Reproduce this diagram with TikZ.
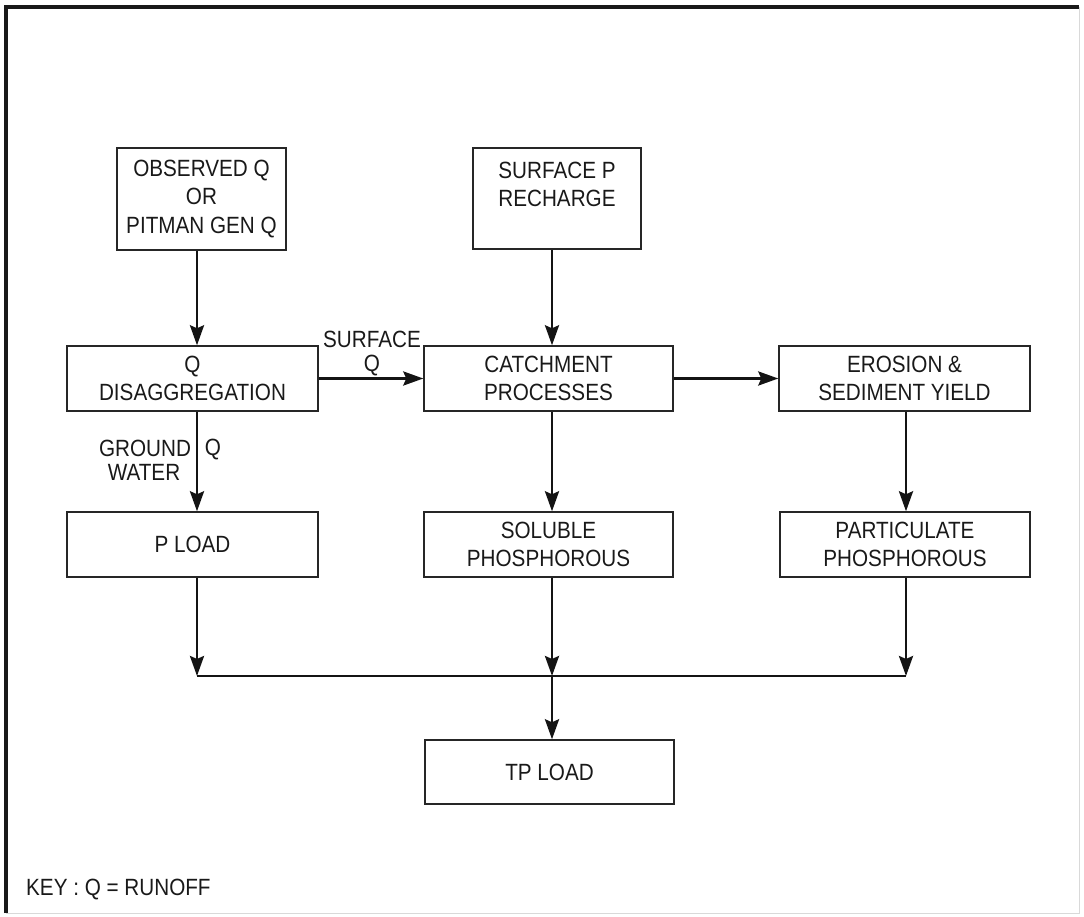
\documentclass[tikz,border=0pt]{standalone}
\usepackage{fontspec}
\setmainfont{Liberation Sans}[FakeStretch=0.88]
\usetikzlibrary{arrows.meta}
\begin{document}
\begin{tikzpicture}[x=1pt,y=-1pt,
  every node/.style={font=\fontsize{23.5}{28.5}\selectfont, text=black!90},
  box/.style={draw=black!85, line width=1.4pt, rectangle, align=center, inner sep=0pt},
  lbl/.style={inner sep=0pt, align=center},
  arr/.style={line width=2.8pt, draw=black!92, -{Stealth[length=20pt,width=14pt,inset=3pt]}},
  ln/.style={line width=2.8pt, draw=black!92}]
\useasboundingbox (0,0) rectangle (1084,917);
% frame
\draw[line width=4pt, black!90] (6,913) -- (6,7) -- (1079,7);
\draw[line width=1pt, black!15] (1079,7) -- (1079,913) -- (6,913);

% boxes
\node[box, minimum width=169pt, minimum height=102pt] (obs) at (201.5,199) {OBSERVED Q\\OR\\PITMAN GEN Q};
\node[box, minimum width=168pt, minimum height=101pt] (spr) at (557,198.5) {SURFACE P\\RECHARGE\\~};
\node[box, minimum width=251pt, minimum height=65pt] (qd) at (192.5,378.5) {Q\\DISAGGREGATION};
\node[box, minimum width=249pt, minimum height=65pt] (cp) at (548.5,378.5) {CATCHMENT\\PROCESSES};
\node[box, minimum width=251pt, minimum height=65pt] (er) at (904.5,378.5) {EROSION \&\\SEDIMENT YIELD};
\node[box, minimum width=251pt, minimum height=65pt] (pl) at (192.5,544.5) {P LOAD};
\node[box, minimum width=249pt, minimum height=65pt] (sp) at (548.5,544.5) {SOLUBLE\\PHOSPHOROUS};
\node[box, minimum width=250pt, minimum height=65pt] (pp) at (905,544.5) {PARTICULATE\\PHOSPHOROUS};
\node[box, minimum width=249pt, minimum height=64pt] (tp) at (549.5,772) {TP LOAD};

% helper coordinates
\coordinate (cL) at (197,0);
\coordinate (cM) at (552,0);
\coordinate (cR) at (906,0);
\coordinate (jy) at (0,676);
\coordinate (jL) at (cL |- jy);
\coordinate (jM) at (cM |- jy);
\coordinate (jR) at (cR |- jy);

% connectors
\draw[arr] (obs.south -| cL) -- (qd.north -| cL);
\draw[arr] (spr.south -| cM) -- (cp.north -| cM);
\draw[arr] (qd.east) -- (cp.west);
\draw[arr] (cp.east) -- (er.west);
\draw[arr] (qd.south -| cL) -- (pl.north -| cL);
\draw[arr] (cp.south -| cM) -- (sp.north -| cM);
\draw[arr] (er.south -| cR) -- (pp.north -| cR);
\draw[arr] (pl.south -| cL) -- (jL);
\draw[arr] (sp.south -| cM) -- (jM);
\draw[arr] (pp.south -| cR) -- (jR);
\draw[ln] (jL) -- (jR);
\draw[arr] (jM) -- (tp.north -| cM);

% labels
\node[lbl] (sfc) at (372,339) {SURFACE};
\node[lbl] (sfq) at (372,366) {Q};
\node[lbl] (gw1) at (145,448) {GROUND};
\node[lbl] (gw2) at (144,472) {WATER};
\node[lbl] (gwq) at (213,450) {Q};
\node[lbl, anchor=west] (key) at (26,890) {KEY : Q = RUNOFF};
\end{tikzpicture}
\end{document}
